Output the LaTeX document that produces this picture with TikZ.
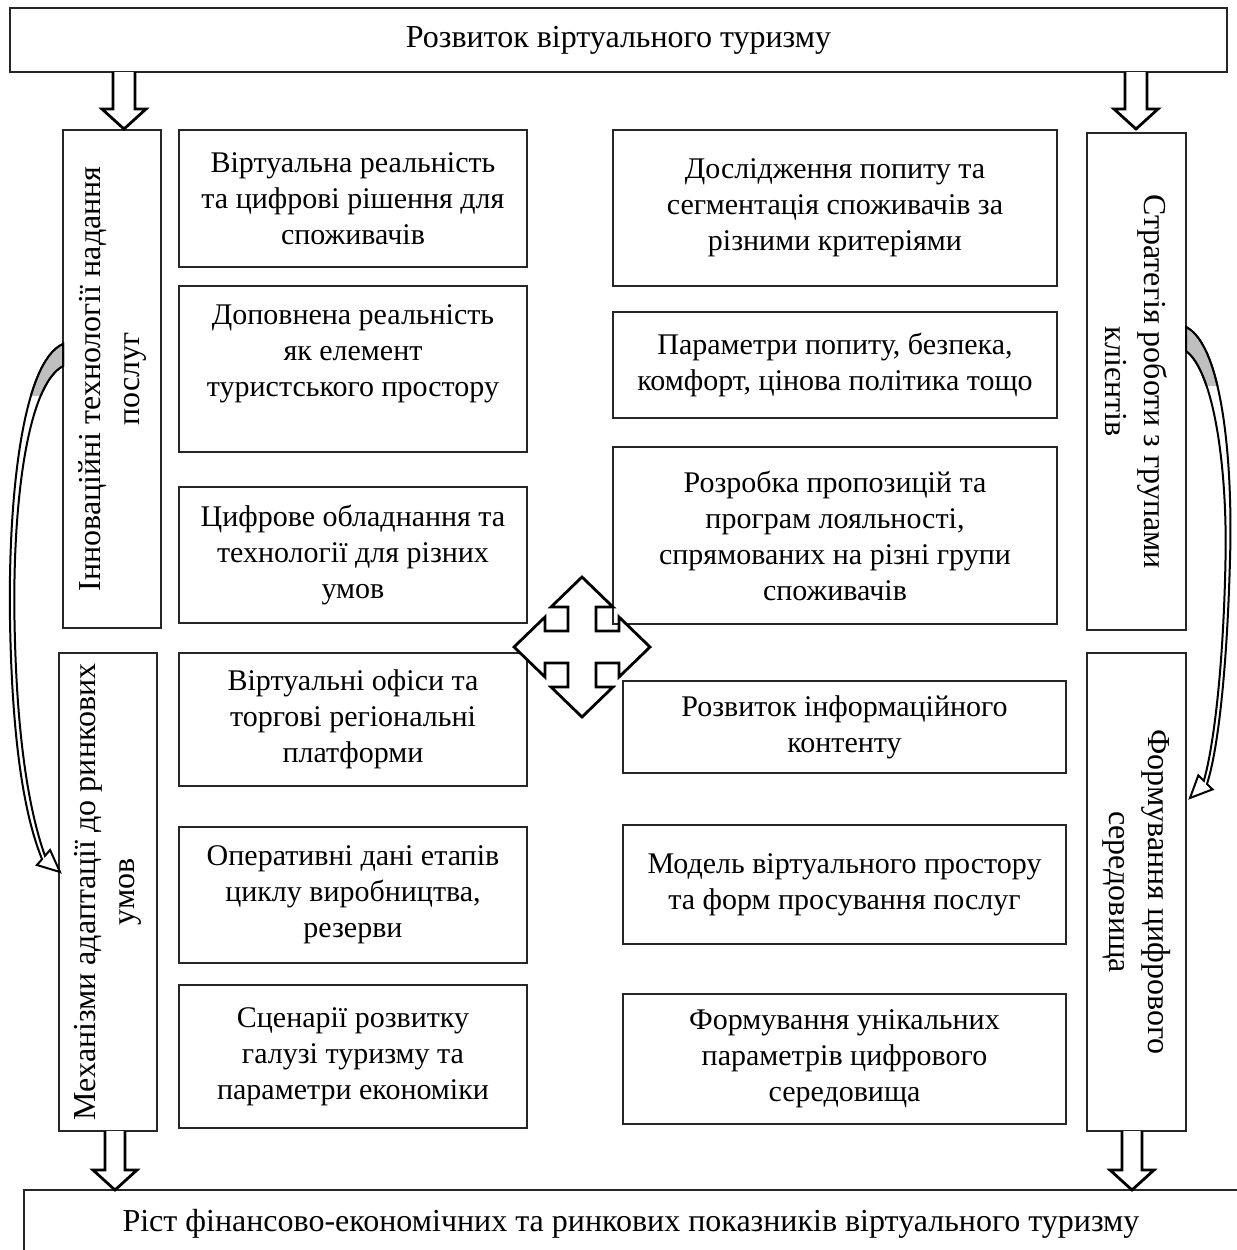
\documentclass[tikz,border=0pt]{standalone}
\usepackage{fontspec}
\setmainfont{Liberation Serif}
\newcommand\bx[6]{\node[box, minimum width={(#4-#2)*0.5pt}, minimum height={(#5-#3)*0.5pt}] (#1) at ({(#2+#4)/2},{(#3+#5)/2}) {#6};}
\newcommand\vbx[7]{\node[box, vfont, rotate=#6, minimum width={(#5-#3)*0.5pt}, minimum height={(#4-#2)*0.5pt}] (#1) at ({(#2+#4)/2},{(#3+#5)/2}) {#7};}
\newcommand\blkarrow[6]{\draw[blk] ({#1-#2},#4) -- ({#1-#2},#5) -- ({#1-#3},#5) -- (#1,#6) -- ({#1+#3},#5) -- ({#1+#2},#5) -- ({#1+#2},#4);}
\def\leftcurve{(63,344) .. controls (22,362) and (8,500) .. (10,620) .. controls (12,740) and (24,815) .. (42.05,859.15) -- (36.9,865) -- (60,872) -- (50.1,850) -- (44.95,855.85) .. controls (29.5,812) and (16.5,740) .. (14.5,620) .. controls (12.5,505) and (27,385) .. (63,366) -- cycle}
\def\rightcurve{(1186,327) .. controls (1222,345) and (1233,460) .. (1230,560) .. controls (1227,670) and (1218,750) .. (1206.96,783.94) -- (1212.5,789.4) -- (1190,798) -- (1198.3,775.4) -- (1203.84,780.86) .. controls (1214,745) and (1223.5,665) .. (1225.5,560) .. controls (1227.5,465) and (1213,370) .. (1186,351) -- cycle}
\begin{document}
\begin{tikzpicture}[x=0.5pt,y=-0.5pt,
  box/.style={draw=black!85, line width=0.8pt, fill=white, inner sep=0pt, align=center,
    font=\fontsize{15}{18}\selectfont},
  vfont/.style={font=\fontsize{16}{19.5}\selectfont},
  bigfont/.style={font=\fontsize{16}{19}\selectfont},
  blk/.style={draw=black, line width=1.4pt, fill=white, line join=miter},
  crv/.style={draw=black, line width=1pt, fill=white, line join=miter},
]
\useasboundingbox (0,0) rectangle (1237,1250);
\clip (0,0) rectangle (1237,1250);
\fill[white] (0,0) rectangle (1237,1250);

% top and bottom boxes
\bx{top}{10}{8}{1227}{72}{\fontsize{16}{19}\selectfont Розвиток віртуального туризму}
\bx{bottom}{24}{1190}{1238}{1258}{\fontsize{16}{19}\selectfont Ріст фінансово-економічних та ринкових показників віртуального туризму}

% side boxes
\vbx{L1}{63}{130}{161}{628}{90}{Інноваційні технології надання\\послуг}
\vbx{L2}{59}{653}{157}{1131}{90}{Механізми адаптації до ринкових\\умов}
\vbx{R1}{1087}{133}{1186}{630}{-90}{Стратегія роботи з групами\\клієнтів}
\vbx{R2}{1087}{653}{1186}{1131}{-90}{Формування цифрового\\середовища}

% left middle column
\bx{B1}{179}{130}{527}{267}{Віртуальна реальність\\та цифрові рішення для\\споживачів}
\bx{B2}{179}{286}{527}{452}{Доповнена реальність\\як елемент\\туристського простору\\[0pt]}
\bx{B3}{179}{487}{527}{623}{Цифрове обладнання та\\технології для різних\\умов}
\bx{B4}{179}{653}{527}{786}{Віртуальні офіси та\\торгові регіональні\\платформи}
\bx{B5}{179}{827}{527}{963}{Оперативні дані етапів\\циклу виробництва,\\резерви}
\bx{B6}{179}{985}{527}{1128}{Сценарії розвитку\\галузі туризму та\\параметри економіки}

% right middle column
\bx{C1}{613}{130}{1057}{286}{Дослідження попиту та\\сегментація споживачів за\\різними критеріями}
\bx{C2}{613}{312}{1057}{418}{Параметри попиту, безпека,\\комфорт, цінова політика тощо}
\bx{C3}{613}{447}{1057}{624}{Розробка пропозицій та\\програм лояльності,\\спрямованих на різні групи\\споживачів}
\bx{C4}{623}{681}{1066}{773}{Розвиток інформаційного\\контенту}
\bx{C5}{623}{825}{1066}{944}{Модель віртуального простору\\та форм просування послуг}
\bx{C6}{623}{994}{1066}{1124}{Формування унікальних\\параметрів цифрового\\середовища}

% block arrows
\blkarrow{124}{11}{22}{72}{109}{129}
\blkarrow{1136}{11}{22}{72}{109}{129}
\blkarrow{115}{10}{22}{1131}{1170}{1190}
\blkarrow{1132}{10}{22}{1131}{1170}{1190}

% four-way arrow
\draw[blk, shift={(582,647)}] (0,-70) -- (31,-40) -- (14,-40) -- (14,-16) -- (37,-16) -- (37,-30) -- (68,0)
  -- (37,30) -- (37,16) -- (14,16) -- (14,40) -- (31,40) -- (0,70) -- (-31,40) -- (-14,40) -- (-14,16)
  -- (-37,16) -- (-37,30) -- (-68,0) -- (-37,-30) -- (-37,-16) -- (-14,-16) -- (-14,-40) -- (-31,-40) -- cycle;

% curved arrows
\path[crv] \leftcurve;
\begin{scope}
  \clip (0,330) rectangle (70,395);
  \path[crv, fill=black!25] \leftcurve;
\end{scope}
\path[crv] \rightcurve;
\begin{scope}
  \clip (1180,315) rectangle (1237,385);
  \path[crv, fill=black!25] \rightcurve;
\end{scope}
\end{tikzpicture}
\end{document}
